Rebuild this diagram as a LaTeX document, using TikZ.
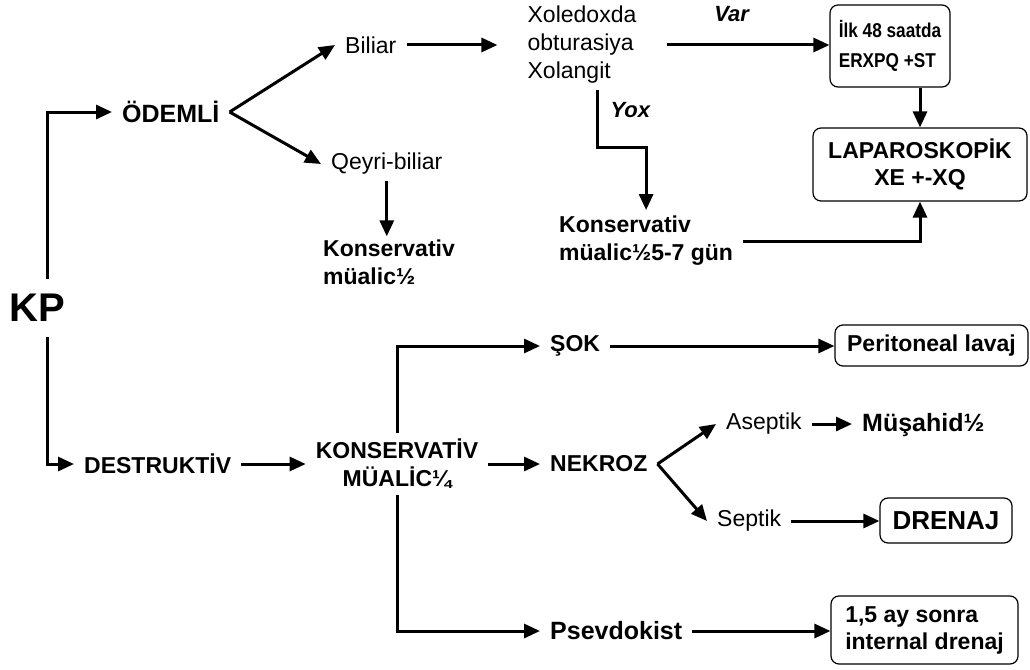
\documentclass[tikz,border=0pt]{standalone}
\usepackage{fontspec}
\setmainfont{Liberation Sans}
\newfontfamily\narrowfont[FakeStretch=0.86]{Liberation Sans}
\usetikzlibrary{arrows.meta}

\begin{document}
\begin{tikzpicture}[x=1pt, y=-1pt,
      lbl/.style={inner xsep=10pt, inner ysep=6pt, font=\fontsize{23}{28}\selectfont},
      blbl/.style={lbl, font=\fontsize{23}{28}\selectfont\bfseries},
      ilbl/.style={lbl, font=\fontsize{22}{26}\selectfont\bfseries\itshape},
      box/.style={draw, rounded corners=8pt, line width=1.2pt, inner xsep=8pt, inner ysep=4pt,
        font=\fontsize{23}{27}\selectfont\bfseries},
      arr/.style={-{Triangle[length=16pt, width=14pt]}, line width=3pt}]
    \useasboundingbox (0,0) rectangle (1030,669);
    \node[font=\fontsize{40}{44}\selectfont\bfseries, inner xsep=0pt, inner ysep=15pt] (kp) at (37,308) {KP};
    \node[lbl, anchor=west, font=\fontsize{25}{30}\selectfont\bfseries] (odemli) at (112,112) {ÖDEMLİ};
    \node[lbl, anchor=west] (biliar) at (335,45) {Biliar};
    \node[lbl, anchor=west] (qeyri) at (321,164) {Qeyri-biliar};
    \node[blbl, anchor=west, align=left, inner ysep=3pt] (kons1) at (313,262) {Konservativ\\müalic½};
    \node[lbl, inner xsep=30pt, align=left] (xoled) at (582,45) {Xoledoxda\\obturasiya\\Xolangit};
    \node[box, minimum width=120pt, minimum height=82pt, align=left,
      font=\fontsize{20}{30}\narrowfont\bfseries] (ilk) at (890,46) {İlk 48 saatda\\ERXPQ +ST};
    \node[box, minimum width=214pt, minimum height=73pt, align=center] (lapar) at (920,164.5) {LAPAROSKOPİK\\XE +-XQ};
    \node[blbl, anchor=west, align=left] (kons2) at (549,241) {Konservativ\\müalic½5-7 gün};
    \coordinate (yb) at (597,147);
    \node[blbl, anchor=west] (destr) at (74,464) {DESTRUKTİV};
    \node[blbl, align=center] (kons3) at (397,464) {KONSERVATİV\\MÜALİC¼};
    \node[blbl, anchor=west] (sok) at (540,346) {ŞOK};
    \node[blbl, anchor=west] (nekroz) at (540,464) {NEKROZ};
    \node[lbl, anchor=west, font=\fontsize{25}{30}\selectfont\bfseries] (psev) at (540,631) {Psevdokist};
    \node[lbl, anchor=west] (asep) at (716,424) {Aseptik};
    \node[lbl, anchor=west] (sept) at (707,521) {Septik};
    \node[lbl, anchor=west, font=\fontsize{25}{30}\selectfont\bfseries] (mus) at (852,425) {Müşahid½};
    \node[box, minimum width=193pt, minimum height=41pt] (peri) at (931.5,345.5) {Peritoneal lavaj};
    \node[box, minimum width=132pt, minimum height=45pt, font=\fontsize{26}{30}\selectfont\bfseries] (dren) at (946,520.5) {DRENAJ};
    \node[box, minimum width=187pt, minimum height=68pt, align=left] (sonra) at (924.5,630) {1,5 ay sonra\\internal drenaj};
    \draw[arr] ([xshift=10pt]kp.north) |- (odemli.west);
    \draw[arr] ([xshift=10pt]kp.south) |- (destr.west);
    \draw[arr] (odemli.east) -- (biliar.west);
    \draw[arr] (odemli.east) -- (qeyri.west);
    \draw[arr] (qeyri.south) -- (qeyri.south |- kons1.north);
    \draw[arr] (biliar.east) -- (xoled.west);
    \draw[arr] (xoled.east) -- node[ilbl, above=16pt, pos=0.4] {Var} (xoled.east -| ilk.west);
    \draw[arr] (ilk.south -| lapar.north) -- (lapar.north);
    \draw[arr] (xoled.south -| yb) -- node[ilbl, right, pos=0.35, inner xsep=12pt] {Yox} (yb) -| (kons2.north);
    \draw[arr] (kons2.east) -| (lapar.south);
    \draw[arr] (destr.east) -- (destr.east -| kons3.west);
    \draw[arr] (kons3.east) -- (kons3.east -| nekroz.west);
    \draw[arr] (kons3.north) |- (sok.west);
    \draw[arr] (kons3.south) |- (psev.west);
    \draw[arr] (sok.east) -- (sok.east -| peri.west);
    \draw[arr] (nekroz.east) -- (asep.west);
    \draw[arr] (nekroz.east) -- (sept.west);
    \draw[arr] (asep.east) -- (asep.east -| mus.west);
    \draw[arr] (sept.east) -- (sept.east -| dren.west);
    \draw[arr] (psev.east) -- (psev.east -| sonra.west);
  \end{tikzpicture}
\end{document}
